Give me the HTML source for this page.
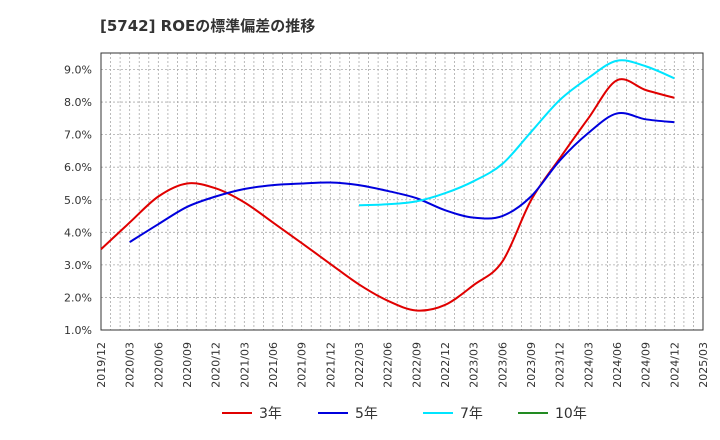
<!DOCTYPE html>
<html><head><meta charset="utf-8"><style>
body{margin:0;background:#fff;}
svg{display:block;font-family:"DejaVu Sans","Noto Sans CJK JP",sans-serif;}
</style></head><body>
<svg id="chart" width="720" height="440">
<text x="100" y="31" font-size="15" font-weight="bold" fill="#333">[5742]  ROEの標準偏差の推移</text>
<g id="grid"></g><g id="axes"></g><g id="series"></g><g id="legend"></g>
</svg>
<script>
const xLabels=["2019/12","2020/03","2020/06","2020/09","2020/12","2021/03","2021/06","2021/09","2021/12","2022/03","2022/06","2022/09","2022/12","2023/03","2023/06","2023/09","2023/12","2024/03","2024/06","2024/09","2024/12","2025/03"];
const yTicks=[1,2,3,4,5,6,7,8,9];
const s3=[3.48,4.3,5.1,5.5,5.35,4.92,4.3,3.67,3.03,2.4,1.9,1.6,1.77,2.38,3.1,4.98,6.27,7.5,8.67,8.37,8.13];
const s5=[null,3.7,4.25,4.78,5.1,5.33,5.45,5.5,5.53,5.45,5.27,5.05,4.68,4.45,4.5,5.1,6.2,7.05,7.65,7.47,7.38];
const s7=[null,null,null,null,null,null,null,null,null,4.83,4.86,4.95,5.2,5.57,6.1,7.08,8.06,8.74,9.27,9.1,8.73];
const s10=[];
const L=101,R=703,T=53,B=330;
const NS="http://www.w3.org/2000/svg";
const xq=i=>L+i*(R-L)/(xLabels.length-1);
const y=v=>B-(v-1)*(B-69.5)/8;
function mk(tag,attrs,parent){const e=document.createElementNS(NS,tag);for(const k in attrs)e.setAttribute(k,attrs[k]);parent.appendChild(e);return e;}
const grid=document.getElementById('grid'),axes=document.getElementById('axes'),ser=document.getElementById('series'),leg=document.getElementById('legend');
for(let m=1;m<(xLabels.length-1)*3;m++){const x=L+m*(R-L)/((xLabels.length-1)*3);
 const g=mk('line',{x1:x,x2:x,y1:T,y2:B,stroke:'#aaa','stroke-width':0.8,'stroke-dasharray':'2,2'},grid);
 }
yTicks.forEach(v=>{const g=mk('line',{x1:L,x2:R,y1:y(v),y2:y(v),stroke:'#aaa','stroke-width':0.8,'stroke-dasharray':'2,2'},grid);
 
 const t=mk('text',{x:L-9,y:y(v)+4,'text-anchor':'end','font-size':11,fill:'#333'},axes);t.textContent=v.toFixed(1)+'%';
 });
const fr=mk('rect',{x:L,y:T,width:R-L,height:B-T,fill:'none',stroke:'#333','stroke-width':1},axes);

xLabels.forEach((l,i)=>{const x=xq(i);const t=mk('text',{x:x+4,y:B+12,'text-anchor':'end','font-size':11,fill:'#333',transform:`rotate(-90 ${x+4} ${B+12})`},axes);t.textContent=l;
 });
function path(data,color,name){const p=[];data.forEach((v,i)=>{if(v!=null)p.push([xq(i),y(v)]);});if(p.length<2)return;
 let d=`M${p[0][0]},${p[0][1]}`;
 for(let i=0;i<p.length-1;i++){const p0=p[Math.max(0,i-1)],p1=p[i],p2=p[i+1],p3=p[Math.min(p.length-1,i+2)];
  const c1=[p1[0]+(p2[0]-p0[0])/6,p1[1]+(p2[1]-p0[1])/6],c2=[p2[0]-(p3[0]-p1[0])/6,p2[1]-(p3[1]-p1[1])/6];
  d+=` C${c1[0]},${c1[1]} ${c2[0]},${c2[1]} ${p2[0]},${p2[1]}`;}
 const e=mk('path',{d:d,fill:'none',stroke:color,'stroke-width':2},ser);
 }
path(s3,'#e00000','series-3yr-line');path(s5,'#0000dd','series-5yr-line');path(s7,'#00e5ff','series-7yr-line');path(s10,'#228b22','series-10yr-line');
[['3年','#e00000',222],['5年','#0000dd',318],['7年','#00e5ff',423],['10年','#228b22',518]].forEach(([n,c,x])=>{
 const g=mk('g',{},leg);
 mk('line',{x1:x,x2:x+30,y1:413,y2:413,stroke:c,'stroke-width':2},g);
 const t=mk('text',{x:x+37,y:418,'font-size':14,fill:'#333'},g);t.textContent=n;});
</script>
</body></html>
